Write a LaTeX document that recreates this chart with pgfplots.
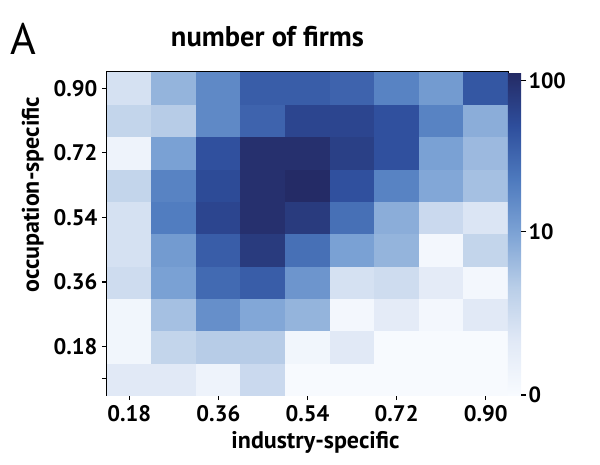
\documentclass[border=0pt]{standalone}
\usepackage{fontspec}
\setmainfont{PT Sans}
\usepackage{pgfplots}
\pgfplotsset{compat=1.18}
\usepackage{pgfplotstable}
\pgfplotsset{colormap={refblues}{rgb255=(248,251,255) rgb255=(225,233,246) rgb255=(185,206,232) rgb255=(125,163,213) rgb255=(78,122,190) rgb255=(46,78,156) rgb255=(36,42,100)}}
% x = industry-specific, y = occupation-specific, c = number of firms
\pgfplotstableread{
x y c
0.18 0.09 1.2
0.27 0.09 1.2
0.36 0.09 0.41
0.45 0.09 2.5
0.54 0.09 0.05
0.63 0.09 0.05
0.72 0.09 0.05
0.81 0.09 0.05
0.90 0.09 0.05
0.18 0.18 0.26
0.27 0.18 3.0
0.36 0.18 4.0
0.45 0.18 4.0
0.54 0.18 0.26
0.63 0.18 1.2
0.72 0.18 0.05
0.81 0.18 0.05
0.90 0.18 0.05
0.18 0.27 0.26
0.27 0.27 5.3
0.36 0.27 14.8
0.45 0.27 9.0
0.54 0.27 6.9
0.63 0.27 0.2
0.72 0.27 1.0
0.81 0.27 0.2
0.90 0.27 1.2
0.18 0.36 2.2
0.27 0.36 10.2
0.36 0.36 30.6
0.45 0.36 38.8
0.54 0.36 13.1
0.63 0.36 1.8
0.72 0.36 2.2
0.81 0.36 1.0
0.90 0.36 0.2
0.18 0.45 1.8
0.27 0.45 11.6
0.36 0.45 38.8
0.45 0.45 78.4
0.54 0.45 27.2
0.63 0.45 10.2
0.72 0.45 6.9
0.81 0.45 0.2
0.90 0.45 3.0
0.18 0.54 1.8
0.27 0.54 21.4
0.36 0.54 62.1
0.45 0.54 99
0.54 0.54 78.4
0.63 0.54 27.2
0.72 0.54 7.9
0.81 0.54 2.5
0.90 0.54 1.5
0.18 0.63 3.0
0.27 0.63 19.0
0.36 0.63 55.2
0.45 0.63 99
0.54 0.63 111
0.63 0.63 49.1
0.72 0.63 19.0
0.81 0.63 9.0
0.90 0.63 5.3
0.18 0.72 0.41
0.27 0.72 10.2
0.36 0.72 49.1
0.45 0.72 99
0.54 0.72 99
0.63 0.72 69.8
0.72 0.72 49.1
0.81 0.72 10.2
0.90 0.72 6.1
0.18 0.81 3.0
0.27 0.81 4.0
0.36 0.81 16.8
0.45 0.81 34.5
0.54 0.81 62.1
0.63 0.81 62.1
0.72 0.81 49.1
0.81 0.81 19.0
0.90 0.81 7.9
0.18 0.90 1.8
0.27 0.90 6.9
0.36 0.90 16.8
0.45 0.90 38.8
0.54 0.90 38.8
0.63 0.90 34.5
0.72 0.90 19.0
0.81 0.90 11.6
0.90 0.90 43.7
}\firms
\begin{document}
\begin{tikzpicture}
\path[use as bounding box] (-107pt,-69pt) rectangle (493pt,395pt);
\begin{axis}[
  scale only axis,
  width=401pt, height=323pt,
  at={(0pt,0pt)}, anchor=south west,
  xmin=0.135, xmax=0.945, ymin=0.045, ymax=0.945,
  axis line style={line width=1.2pt},
  xtick={0.18,0.36,0.54,0.72,0.90},
  xticklabels={0.18,0.36,0.54,0.72,0.90},
  ytick={0.09,0.18,0.36,0.54,0.72,0.90},
  yticklabels={,0.18,0.36,0.54,0.72,0.90},
  tick align=outside, xtick pos=bottom, ytick pos=left,
  major tick length=5pt,
  tick style={line width=1.2pt, black},
  tick label style={font=\fontsize{22.5}{22.5}\selectfont\bfseries},
  xticklabel style={yshift=-2pt},
  yticklabel style={xshift=-1pt},
  xlabel={industry-specific},
  ylabel={occupation-specific},
  label style={font=\fontsize{24}{24}\selectfont\bfseries},
  xlabel style={at={(axis description cs:0.52,0)}, anchor=base, yshift=-53pt},
  ylabel style={at={(axis description cs:0,0.62)}, anchor=base, yshift=68pt},
  title={number of firms},
  title style={font=\fontsize{28.5}{28.5}\selectfont\bfseries, at={(axis description cs:0.40,1)}, anchor=base, yshift=20pt},
  colormap name=refblues,
  point meta min=0, point meta max=2.06,
  colorbar,
  colorbar style={
    at={(1,1)}, anchor=north west, xshift=25pt,
    width=13pt,
    axis line style={draw=none},
    ytick={0,1.0414,2.0043},
    yticklabels={0,10,100},
    ytick pos=right, tick align=outside,
    major tick length=5pt,
    tick style={line width=1.4pt, black},
    yticklabel style={font=\fontsize{22}{22}\selectfont\bfseries, xshift=-1pt},
  },
]
\addplot[matrix plot*, mesh/cols=9, point meta={log10(\thisrow{c}+1)}] table[x=x, y=y] {\firms};
\end{axis}
\node[anchor=base west, font=\fontsize{44}{44}\selectfont, inner sep=0pt] at (-97pt,340pt) {A};
\end{tikzpicture}
\end{document}
